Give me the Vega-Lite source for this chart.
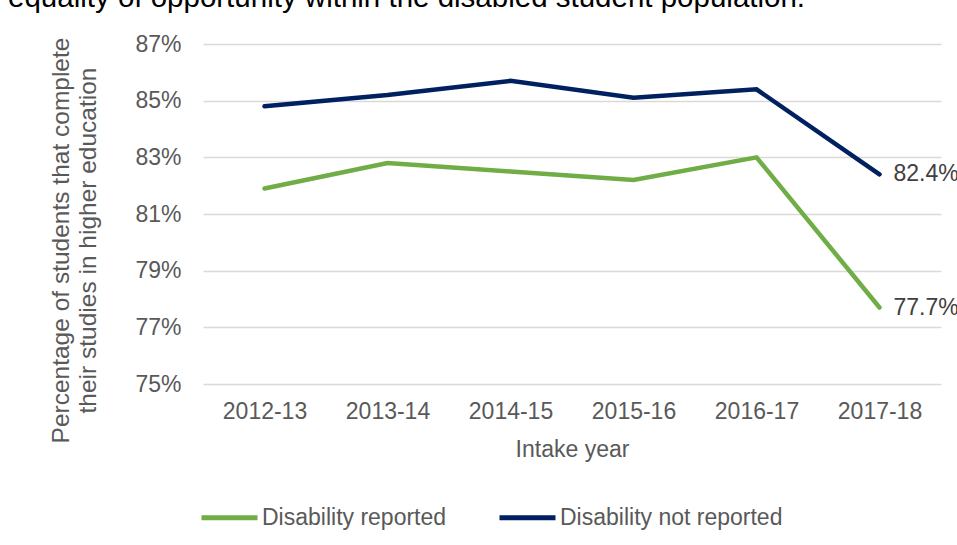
{
  "$schema": "https://vega.github.io/schema/vega-lite/v6.json",
  "autosize": "none",
  "width": 738,
  "height": 340,
  "padding": {"left": 203, "top": 44, "right": 16, "bottom": 161},
  "background": "white",
  "config": {
    "font": "Liberation Sans",
    "view": {"stroke": null}
  },
  "title": {
    "text": "equality of opportunity within the disabled student population.",
    "anchor": "start",
    "frame": "group",
    "orient": "top",
    "fontSize": 29.5,
    "fontWeight": "normal",
    "font": "Liberation Sans",
    "color": "#000000",
    "baseline": "alphabetic",
    "offset": 0,
    "dy": 3,
    "dx": -195
  },
  "data": {
    "values": [
      {"year": "2012-13", "group": "Disability reported", "value": 0.819},
      {"year": "2013-14", "group": "Disability reported", "value": 0.828},
      {"year": "2014-15", "group": "Disability reported", "value": 0.825},
      {"year": "2015-16", "group": "Disability reported", "value": 0.822},
      {"year": "2016-17", "group": "Disability reported", "value": 0.830},
      {"year": "2017-18", "group": "Disability reported", "value": 0.777},
      {"year": "2012-13", "group": "Disability not reported", "value": 0.848},
      {"year": "2013-14", "group": "Disability not reported", "value": 0.852},
      {"year": "2014-15", "group": "Disability not reported", "value": 0.857},
      {"year": "2015-16", "group": "Disability not reported", "value": 0.851},
      {"year": "2016-17", "group": "Disability not reported", "value": 0.854},
      {"year": "2017-18", "group": "Disability not reported", "value": 0.824}
    ]
  },
  "encoding": {
    "x": {
      "field": "year",
      "type": "ordinal",
      "scale": {"type": "point", "padding": 0.5},
      "axis": {
        "title": "Intake year",
        "labelAngle": 0,
        "labelFontSize": 23,
        "labelColor": "#595959",
        "labelPadding": 16,
        "ticks": false,
        "domain": false,
        "titleFontSize": 23,
        "titleFontWeight": "normal",
        "titleColor": "#595959",
        "titlePadding": 15
      }
    },
    "y": {
      "field": "value",
      "type": "quantitative",
      "scale": {"domain": [0.75, 0.87], "nice": false, "zero": false},
      "axis": {
        "values": [0.75, 0.77, 0.79, 0.81, 0.83, 0.85, 0.87],
        "format": ".0%",
        "labelFontSize": 23,
        "labelColor": "#595959",
        "labelPadding": 22,
        "ticks": false,
        "domain": false,
        "grid": true,
        "gridColor": "#d9d9d9",
        "gridWidth": 1.5,
        "title": ["Percentage of students that complete", "their studies in higher education"],
        "titleFontSize": 24.5,
        "titleFontWeight": "normal",
        "titleColor": "#595959",
        "titleAngle": -90,
        "titleAlign": "center",
        "titleBaseline": "middle",
        "titleLineHeight": 27,
        "titleX": -142,
        "titleY": 196
      }
    }
  },
  "layer": [
    {
      "mark": {"type": "line", "strokeWidth": 4.5, "strokeCap": "round", "strokeJoin": "miter"},
      "encoding": {
        "color": {
          "field": "group",
          "type": "nominal",
          "scale": {"domain": ["Disability reported", "Disability not reported"], "range": ["#70AD47", "#002060"]},
          "legend": {
            "orient": "none",
            "legendX": -4,
            "legendY": 443,
            "direction": "horizontal",
            "title": null,
            "symbolType": "stroke",
            "symbolSize": 3136,
            "symbolStrokeWidth": 5,
            "labelFontSize": 23,
            "labelColor": "#595959",
            "labelOffset": 2,
            "columnPadding": 42,
            "padding": 0,
            "labelLimit": 400
          }
        }
      }
    },
    {
      "transform": [{"filter": "datum.year == '2017-18'"}],
      "mark": {"type": "text", "align": "left", "baseline": "middle", "dx": 14, "fontSize": 23, "color": "#404040"},
      "encoding": {
        "text": {"field": "value", "type": "quantitative", "format": ".1%"}
      }
    }
  ]
}
